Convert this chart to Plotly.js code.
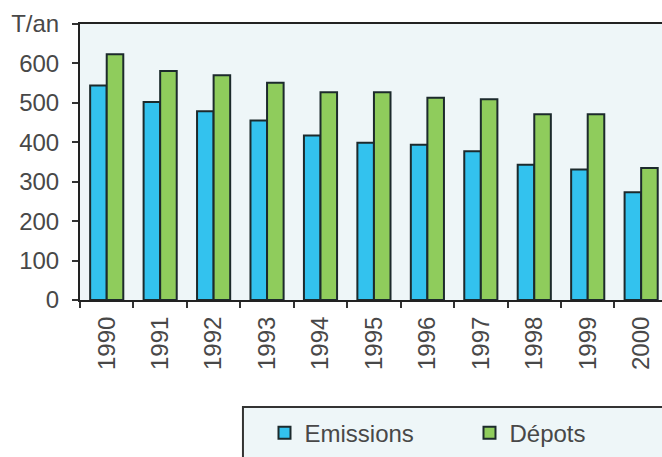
<!DOCTYPE html>
<html>
<head>
<meta charset="utf-8">
<script src="https://cdn.plot.ly/plotly-3.0.1.min.js"></script>
<style>html,body{margin:0;padding:0;overflow:hidden;background:#fff}</style>
</head>
<body>
<div id="chart" style="width:662px;height:457px"></div>
<script>
const years = ["1990","1991","1992","1993","1994","1995","1996","1997","1998","1999","2000"];
const emissions = [544, 502, 479, 455, 417, 399, 394, 377, 343, 331, 273];
const depots = [623, 581, 570, 551, 527, 527, 513, 509, 471, 471, 335];
const yTickVals = [0, 100, 200, 300, 400, 500, 600, 700];
const yTickText = ["0", "100", "200", "300", "400", "500", "600", "T/an"];
const seriesNames = ["Emissions", "Dépots"];

const lineCol = "#1c2a2c";
const traces = [
  {type: "bar", name: seriesNames[0], x: years, y: emissions,
   marker: {color: "#33c2ee", line: {color: lineCol, width: 2}}},
  {type: "bar", name: seriesNames[1], x: years, y: depots, legendwidth: 90,
   marker: {color: "#8fcc5c", line: {color: lineCol, width: 2}}}
];

const layout = {
  width: 662, height: 457,
  margin: {l: 80, r: 0, t: 24, b: 157, pad: 0},
  paper_bgcolor: "#ffffff",
  plot_bgcolor: "#eef6f8",
  barmode: "group",
  bargap: 0.38,
  bargroupgap: 0,
  font: {family: "Liberation Sans, Arial, sans-serif", size: 24, color: "#484848"},
  xaxis: {
    type: "category",
    range: [-0.5, 10.39],
    showline: true, linecolor: "#222", linewidth: 2, mirror: true,
    ticks: "outside", tickson: "boundaries", ticklen: 6, tickcolor: "#333", tickwidth: 2,
    tickangle: -90,
    ticklabelstandoff: 5,
    tickfont: {size: 24, color: "#484848"},
    showgrid: false, zeroline: false
  },
  yaxis: {
    range: [0, 700],
    tickvals: yTickVals, ticktext: yTickText,
    showline: true, linecolor: "#222", linewidth: 2,
    ticks: "outside", ticklen: 6, tickcolor: "#333", tickwidth: 2,
    ticklabelstandoff: 8,
    tickfont: {size: 24, color: "#484848"},
    showgrid: false, zeroline: false
  },
  showlegend: true,
  legend: {
    orientation: "h",
    x: 0.317, xanchor: "left",
    y: -0.482, yanchor: "middle",
    bgcolor: "rgba(0,0,0,0)", borderwidth: 0,
    font: {size: 24, color: "#484848"},
    entrywidthmode: "pixels", entrywidth: 160,
    traceorder: "normal"
  },
  shapes: [{
    type: "rect", xref: "paper", yref: "paper", layer: "below",
    x0: 0.28, x1: 1.2, y0: -0.388, y1: -0.7,
    line: {color: "#333", width: 2}, fillcolor: "#eef6f8"
  }]
};

Plotly.newPlot("chart", traces, layout, {displayModeBar: false, staticPlot: true});
</script>
</body>
</html>
